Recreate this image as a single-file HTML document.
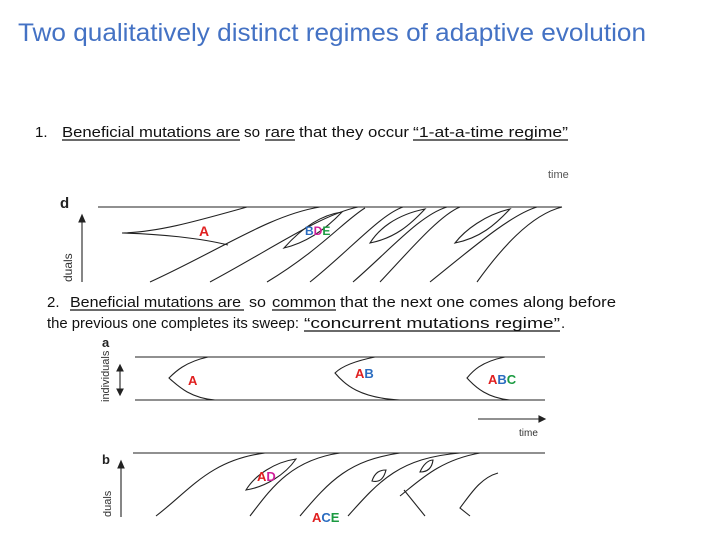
<!DOCTYPE html>
<html><head><meta charset="utf-8"><style>
html,body{margin:0;padding:0;background:#fff;}
svg{display:block;font-family:"Liberation Sans",sans-serif;}
</style></head><body>
<svg width="720" height="540" viewBox="0 0 720 540">
<text x="18" y="41" font-size="25" fill="#4472c4" textLength="628" lengthAdjust="spacingAndGlyphs">Two qualitatively distinct regimes of adaptive evolution</text>

<g font-size="15" fill="#111">
<text x="35" y="137">1.</text>
<text x="62" y="137" textLength="178" lengthAdjust="spacingAndGlyphs">Beneficial mutations are</text>
<text x="244" y="137" textLength="16" lengthAdjust="spacingAndGlyphs">so</text>
<text x="265" y="137" textLength="30" lengthAdjust="spacingAndGlyphs">rare</text>
<text x="299" y="137" textLength="110" lengthAdjust="spacingAndGlyphs">that they occur</text>
<text x="413" y="137" textLength="155" lengthAdjust="spacingAndGlyphs">“1-at-a-time regime”</text>
<g stroke="#111" stroke-width="1.2"><line x1="62" y1="140" x2="240" y2="140"/><line x1="265" y1="140" x2="295" y2="140"/><line x1="413" y1="140" x2="568" y2="140"/></g>
</g>

<g fill="none" stroke="#222" stroke-width="1.1">
<rect x="50" y="163" width="540" height="120" fill="#fff" stroke="none"/>
<text x="548" y="178" font-size="11" fill="#555" stroke="none">time</text>
<text x="60" y="208" font-size="15" font-weight="bold" fill="#222" stroke="none">d</text>
<line x1="98" y1="207" x2="562" y2="207"/>
<line x1="82" y1="282" x2="82" y2="218"/><path d="M79,222 L82,215 L85,222Z" fill="#222"/>
<text transform="translate(72,282) rotate(-90)" font-size="12" fill="#333" stroke="none">duals</text>
<path d="M122,233 C160,232 200,220 247,207"/>
<path d="M122,233 C160,234 200,238 228,245"/>
<path d="M150,282 C220,250 270,215 320,207"/>
<path d="M210,282 C270,250 320,215 358,207"/>
<path d="M267,282 C320,250 345,220 365,208"/>
<path d="M310,282 C350,250 380,215 403,207"/>
<path d="M353,282 C390,250 420,215 447,207"/>
<path d="M380,282 C410,250 440,215 460,207"/>
<path d="M430,282 C470,250 510,215 537,207"/>
<path d="M477,282 C500,250 530,215 562,207"/>
<path d="M284,248 C300,230 320,215 342,212 C325,230 305,243 284,248Z"/>
<path d="M370,243 C378,230 395,215 425,209 C410,225 395,238 370,243Z"/>
<path d="M455,243 C465,230 485,215 510,209 C495,225 480,238 455,243Z"/>
<text x="199" y="236" font-size="14" font-weight="bold" fill="#e02020" stroke="none">A</text>
<text x="305" y="235" font-size="12" font-weight="bold" stroke="none"><tspan fill="#2a6cc0">B</tspan><tspan fill="#d0209a">D</tspan><tspan fill="#1a9a40">E</tspan></text>
</g>

<g font-size="15" fill="#111">
<text x="47" y="307">2.</text>
<text x="70" y="307" textLength="171" lengthAdjust="spacingAndGlyphs">Beneficial mutations are</text>
<text x="249" y="307" textLength="17" lengthAdjust="spacingAndGlyphs">so</text>
<text x="272" y="307" textLength="64" lengthAdjust="spacingAndGlyphs">common</text>
<text x="340" y="307" textLength="276" lengthAdjust="spacingAndGlyphs">that the next one comes along before</text>
<text x="47" y="328" textLength="252" lengthAdjust="spacingAndGlyphs">the previous one completes its sweep:</text>
<text x="304" y="328" textLength="256" lengthAdjust="spacingAndGlyphs">“concurrent mutations regime”</text>
<text x="561" y="328">.</text>
<g stroke="#111" stroke-width="1.2"><line x1="70" y1="310" x2="244" y2="310"/><line x1="272" y1="310" x2="336" y2="310"/><line x1="304" y1="331" x2="560" y2="331"/></g>
</g>

<g fill="none" stroke="#222" stroke-width="1.1">
<text x="102" y="347" font-size="13" font-weight="bold" fill="#222" stroke="none">a</text>
<line x1="135" y1="357" x2="545" y2="357"/>
<line x1="135" y1="400" x2="545" y2="400"/>
<line x1="120" y1="368" x2="120" y2="392"/>
<path d="M117,371 L120,365 L123,371Z M117,389 L120,395 L123,389Z" fill="#222"/>
<text transform="translate(109,402) rotate(-90)" font-size="11" fill="#333" stroke="none">individuals</text>
<path d="M208,357 C185,362 175,372 169,378 C178,386 190,398 215,400"/>
<path d="M375,357 C350,362 340,368 335,373 C345,385 360,398 400,400"/>
<path d="M505,357 C480,362 472,372 467,378 C476,388 488,398 510,400"/>
<text x="188" y="385" font-size="13" font-weight="bold" fill="#e02020" stroke="none">A</text>
<text x="355" y="378" font-size="13" font-weight="bold" stroke="none"><tspan fill="#e02020">A</tspan><tspan fill="#2a6cc0">B</tspan></text>
<text x="488" y="384" font-size="13" font-weight="bold" stroke="none"><tspan fill="#e02020">A</tspan><tspan fill="#2a6cc0">B</tspan><tspan fill="#1a9a40">C</tspan></text>
<line x1="478" y1="419" x2="540" y2="419"/><path d="M539,416 L545,419 L539,422Z" fill="#222"/>
<text x="519" y="436" font-size="10" fill="#333" stroke="none">time</text>
</g>

<g fill="none" stroke="#222" stroke-width="1.1">
<text x="102" y="464" font-size="13" font-weight="bold" fill="#222" stroke="none">b</text>
<line x1="133" y1="453" x2="545" y2="453"/>
<line x1="121" y1="517" x2="121" y2="465"/><path d="M118,468 L121,461 L124,468Z" fill="#222"/>
<text transform="translate(111,517) rotate(-90)" font-size="11" fill="#333" stroke="none">duals</text>
<path d="M156,516 C190,490 210,460 265,453"/>
<path d="M250,516 C270,490 290,460 340,453"/>
<path d="M300,516 C330,480 350,460 400,453"/>
<path d="M348,516 C380,480 400,458 460,453"/>
<path d="M400,496 C420,480 440,460 480,453"/>
<path d="M404,490 L425,516"/>
<path d="M498,473 C480,478 470,495 460,508 L470,516"/>
<path d="M246,490 C255,475 275,462 296,459 C285,475 265,487 246,490Z"/>
<path d="M372,481 C375,472 380,470 386,470 C384,478 380,483 372,481Z"/>
<path d="M420,472 C423,465 428,460 433,460 C432,468 428,472 420,472Z"/>
<text x="257" y="481" font-size="13" font-weight="bold" stroke="none"><tspan fill="#e02020">A</tspan><tspan fill="#d0209a">D</tspan></text>
<text x="312" y="522" font-size="13" font-weight="bold" stroke="none"><tspan fill="#e02020">A</tspan><tspan fill="#2a6cc0">C</tspan><tspan fill="#1a9a40">E</tspan></text>
</g>
</svg>
</body></html>
